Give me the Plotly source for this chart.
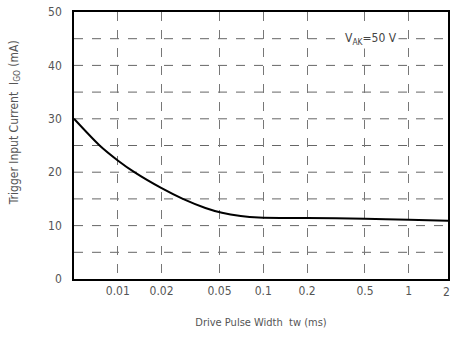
import plotly.graph_objects as go

pulse_width_ms = [0.005, 0.0075, 0.01, 0.013, 0.02, 0.028, 0.04, 0.052, 0.07, 0.093, 0.2, 0.5, 1, 2]
trigger_current_ma = [30, 25, 22.2, 20, 17, 15, 13.3, 12.4, 11.8, 11.5, 11.4, 11.3, 11.1, 10.9]

x_ticks = [0.01, 0.02, 0.05, 0.1, 0.2, 0.5, 1]
x_tick_text = ["0.01", "0.02", "0.05", "0.1", "0.2", "0.5", "1"]
edge_tick_text = "2"
y_ticks = [0, 10, 20, 30, 40, 50]

font_family = "DejaVu Sans Condensed, Liberation Sans Narrow, Liberation Sans, sans-serif"
gray_text = "#555555"

fig = go.Figure()
fig.add_trace(go.Scatter(
    x=pulse_width_ms, y=trigger_current_ma, mode="lines",
    line=dict(color="black", width=2, shape="spline", smoothing=0.8),
    showlegend=False, hoverinfo="skip"))

fig.update_xaxes(
    type="log", range=[0.6990 - 3, 0.2695],
    tickvals=x_ticks, ticktext=x_tick_text,
    showgrid=True, gridcolor="#777777", griddash="dash", gridwidth=1,
    showline=True, linecolor="black", linewidth=1.5, mirror=True,
    ticks="", tickfont=dict(family=font_family, size=12, color=gray_text),
    zeroline=False,
    title=dict(text="Drive Pulse Width  tw (ms)", font=dict(family=font_family, size=11, color=gray_text), standoff=21),
)
fig.update_yaxes(
    range=[0, 50], tickvals=y_ticks,
    showgrid=False,
    showline=True, linecolor="black", linewidth=1.5, mirror=True,
    ticks="", tickfont=dict(family=font_family, size=12, color=gray_text),
    ticklabelstandoff=8, zeroline=False,
)
# horizontal grid every 5
for v in range(5, 50, 5):
    fig.add_shape(type="line", xref="paper", x0=0, x1=1, yref="y", y0=v, y1=v,
                  line=dict(color="#666666", width=1, dash="dash"), layer="below")

# tick label for 2 ms, which sits at the plot's right edge
fig.add_annotation(
    x=0.995, y=0, xref="paper", yref="paper", yanchor="top", xanchor="center", yshift=-4,
    text=edge_tick_text, showarrow=False,
    font=dict(family=font_family, size=12, color=gray_text))

fig.add_annotation(
    x=-0.186, y=0.585, xref="paper", yref="paper", textangle=-90,
    text="Trigger Input Current  I<sub>GO</sub> (mA)", showarrow=False,
    font=dict(family=font_family, size=12, color=gray_text))

fig.add_annotation(
    x=-0.26, y=45, xref="x", yref="y",
    text="V<sub>AK</sub>=50 V", showarrow=False, bgcolor="white",
    font=dict(family=font_family, size=12, color="#444444"))

fig.update_layout(
    width=453, height=338,
    margin=dict(l=74, r=3, t=12, b=59),
    plot_bgcolor="white", paper_bgcolor="white",
)

fig.write_html("out.html", config={"displayModeBar": False},
               post_script="document.body.style.margin='0';")
